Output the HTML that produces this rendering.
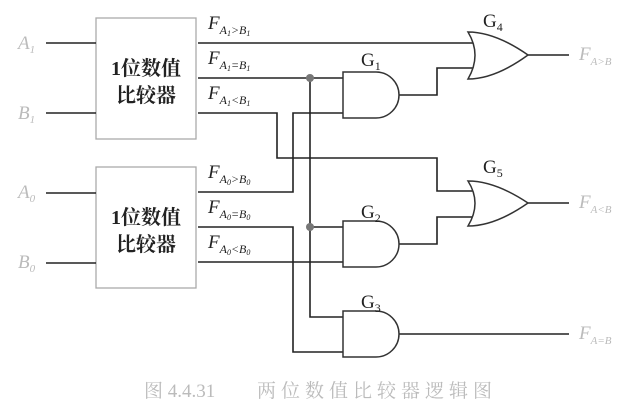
<!DOCTYPE html>
<html><head><meta charset="utf-8">
<style>
html,body{margin:0;padding:0;background:#fff;}
svg{display:block;}
.w{stroke:#222;stroke-width:1.6;fill:none;}
.g{stroke:#333;stroke-width:1.5;fill:#fff;}
.f{font-family:"Liberation Serif",serif;font-style:italic;}
.cj{font-family:"Liberation Serif","Noto Serif CJK SC",serif;}
</style></head>
<body>
<svg width="644" height="409" viewBox="0 0 644 409" xmlns="http://www.w3.org/2000/svg">
<rect x="0" y="0" width="644" height="409" fill="#fff"/>
<rect x="96" y="18" width="100" height="121" fill="none" stroke="#aaa" stroke-width="1.3"/>
<rect x="96" y="167" width="100" height="121" fill="none" stroke="#aaa" stroke-width="1.3"/>
<g class="cj" font-size="20" font-weight="bold" fill="#222" text-anchor="middle">
<text x="146" y="75">1位数值</text><text x="146" y="102">比较器</text>
<text x="146" y="224">1位数值</text><text x="146" y="251">比较器</text>
</g>
<path class="w" d="M46 43H96 M46 113H96 M46 193H96 M46 263H96"/>
<g class="f" fill="#bbb" font-size="19">
<text x="18" y="49">A<tspan font-size="11" dy="4">1</tspan></text>
<text x="18" y="119">B<tspan font-size="11" dy="4">1</tspan></text>
<text x="18" y="198">A<tspan font-size="11" dy="4">0</tspan></text>
<text x="18" y="268">B<tspan font-size="11" dy="4">0</tspan></text>
</g>
<path class="w" d="M198 43H476"/>
<path class="w" d="M198 78H343"/>
<path class="w" d="M198 113H277V158H437V191H476"/>
<path class="w" d="M198 192H293V113H343"/>
<path class="w" d="M310 78V317H343"/>
<path class="w" d="M310 227H343"/>
<path class="w" d="M198 227H293V352H343"/>
<path class="w" d="M198 262H343"/>
<path class="w" d="M399 95H437V68H476"/>
<path class="w" d="M399 244H437V217H476"/>
<path class="w" d="M528 55H569 M528 203H569 M399 334H569"/>
<circle cx="310" cy="78" r="4" fill="#777"/>
<circle cx="310" cy="227" r="4" fill="#777"/>
<path class="g" d="M343 72H376A23 23 0 0 1 376 118H343Z"/>
<path class="g" d="M343 221H376A23 23 0 0 1 376 267H343Z"/>
<path class="g" d="M343 311H376A23 23 0 0 1 376 357H343Z"/>
<path class="g" d="M468 32Q495 32 528 55Q495 79 468 79Q482 55 468 32Z"/>
<path class="g" d="M468 181Q495 181 528 203Q495 226 468 226Q482 203 468 181Z"/>
<g class="cj" font-size="19" fill="#222">
<text x="483" y="27">G<tspan font-size="12" dy="4">4</tspan></text>
<text x="361" y="66">G<tspan font-size="12" dy="4">1</tspan></text>
<text x="483" y="173">G<tspan font-size="12" dy="4">5</tspan></text>
<text x="361" y="218">G<tspan font-size="12" dy="4">2</tspan></text>
<text x="361" y="308">G<tspan font-size="12" dy="4">3</tspan></text>
</g>
<g class="f" fill="#222" font-size="19">
<text x="208" y="29">F<tspan font-size="12" dy="5">A</tspan><tspan font-size="8" dy="2">1</tspan><tspan font-size="12" dy="-2">&gt;B</tspan><tspan font-size="8" dy="2">1</tspan></text>
<text x="208" y="64">F<tspan font-size="12" dy="5">A</tspan><tspan font-size="8" dy="2">1</tspan><tspan font-size="12" dy="-2">=B</tspan><tspan font-size="8" dy="2">1</tspan></text>
<text x="208" y="99">F<tspan font-size="12" dy="5">A</tspan><tspan font-size="8" dy="2">1</tspan><tspan font-size="12" dy="-2">&lt;B</tspan><tspan font-size="8" dy="2">1</tspan></text>
<text x="208" y="178">F<tspan font-size="12" dy="5">A</tspan><tspan font-size="8" dy="2">0</tspan><tspan font-size="12" dy="-2">&gt;B</tspan><tspan font-size="8" dy="2">0</tspan></text>
<text x="208" y="213">F<tspan font-size="12" dy="5">A</tspan><tspan font-size="8" dy="2">0</tspan><tspan font-size="12" dy="-2">=B</tspan><tspan font-size="8" dy="2">0</tspan></text>
<text x="208" y="248">F<tspan font-size="12" dy="5">A</tspan><tspan font-size="8" dy="2">0</tspan><tspan font-size="12" dy="-2">&lt;B</tspan><tspan font-size="8" dy="2">0</tspan></text>
</g>
<g class="f" fill="#bbb" font-size="19">
<text x="579" y="60">F<tspan font-size="11" dy="5">A&gt;B</tspan></text>
<text x="579" y="208">F<tspan font-size="11" dy="5">A&lt;B</tspan></text>
<text x="579" y="339">F<tspan font-size="11" dy="5">A=B</tspan></text>
</g>
<text x="144" y="397" class="cj" font-size="19" fill="#bbb">图 4.4.31</text>
<text x="257" y="397" class="cj" font-size="19" fill="#bbb" letter-spacing="5">两位数值比较器逻辑图</text>
</svg>
</body></html>
